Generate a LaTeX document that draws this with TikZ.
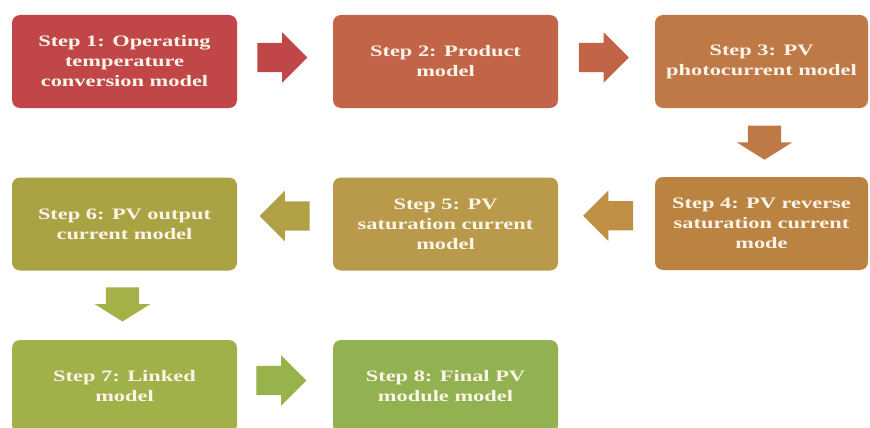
\documentclass[tikz,border=0pt]{standalone}
\usepackage{fontspec}
\setmainfont{Liberation Serif}[FakeStretch=1.4]
\usetikzlibrary{shapes.arrows,calc}
\definecolor{c1}{RGB}{192,70,72}
\definecolor{c2}{RGB}{193,100,72}
\definecolor{c3}{RGB}{190,121,70}
\definecolor{c4}{RGB}{187,131,65}
\definecolor{c5}{RGB}{184,154,74}
\definecolor{c6}{RGB}{170,163,68}
\definecolor{c7}{RGB}{161,177,74}
\definecolor{c8}{RGB}{146,177,80}
\definecolor{a4}{RGB}{190,143,68}
\definecolor{a5}{RGB}{176,160,70}
\definecolor{a6}{RGB}{165,176,72}
\definecolor{a7}{RGB}{152,178,76}
\definecolor{txt}{RGB}{252,244,232}
\tikzset{
  stepbox/.style={rectangle, rounded corners=8pt, minimum width=225pt, minimum height=93pt,
    inner sep=2pt, align=center, text=txt, font=\fontsize{16}{20}\selectfont\bfseries},
  hblock/.style={single arrow, inner xsep=0pt, inner ysep=14.5pt, minimum height=50pt,
    single arrow head extend=10.5pt, single arrow tip angle=90},
  vblock/.style={single arrow, inner xsep=0pt, inner ysep=16.5pt, minimum height=34pt,
    single arrow head extend=11pt, single arrow tip angle=116, rotate=-90},
}
\begin{document}
\begin{tikzpicture}[x=1pt,y=1pt]
\clip (0,0) rectangle (870,-428);
\fill[white] (0,0) rectangle (870,-428);
\node[stepbox, fill=c1] (b1) at (124.5,-61.5) {Step 1: Operating\\temperature\\conversion model};
\node[stepbox, fill=c2] (b2) at (445.5,-61.5) {Step 2: Product\\model};
\node[stepbox, fill=c3, minimum width=213pt] (b3) at (761.5,-61.5) {Step 3: PV\\photocurrent model};
\node[stepbox, fill=c4, minimum width=213pt] (b4) at (761.5,-223.5) {Step 4: PV reverse\\saturation current\\mode};
\node[stepbox, fill=c5] (b5) at (445.5,-224) {Step 5: PV\\saturation current\\model};
\node[stepbox, fill=c6] (b6) at (124.5,-224) {Step 6: PV output\\current model};
\node[stepbox, fill=c7] (b7) at (124.5,-386.5) {Step 7: Linked\\model};
\node[stepbox, fill=c8] (b8) at (445.5,-386.5) {Step 8: Final PV\\module model};
\node[hblock, fill=c1] (a1) at ($($(b1.east)!0.5!(b2.west)$)+(-10,4)$) {};
\node[hblock, fill=c2] (a2) at ($($(b2.east)!0.5!(b3.west)$)+(-10,4)$) {};
\node[vblock, fill=c3] (a3) at ($($(b3.south)!0.5!(b4.north)$)+(3,5)$) {};
\node[hblock, fill=a4, shape border rotate=180] (a4) at ($($(b4.west)!0.5!(b5.east)$)+(9,8)$) {};
\node[hblock, fill=a5, shape border rotate=180] (a5) at ($($(b5.west)!0.5!(b6.east)$)+(7,8)$) {};
\node[vblock, fill=a6] (a6) at ($($(b6.south)!0.5!(b7.north)$)+(-2,6)$) {};
\node[hblock, fill=a7] (a7) at ($($(b7.east)!0.5!(b8.west)$)+(-11,6)$) {};
\end{tikzpicture}
\end{document}
